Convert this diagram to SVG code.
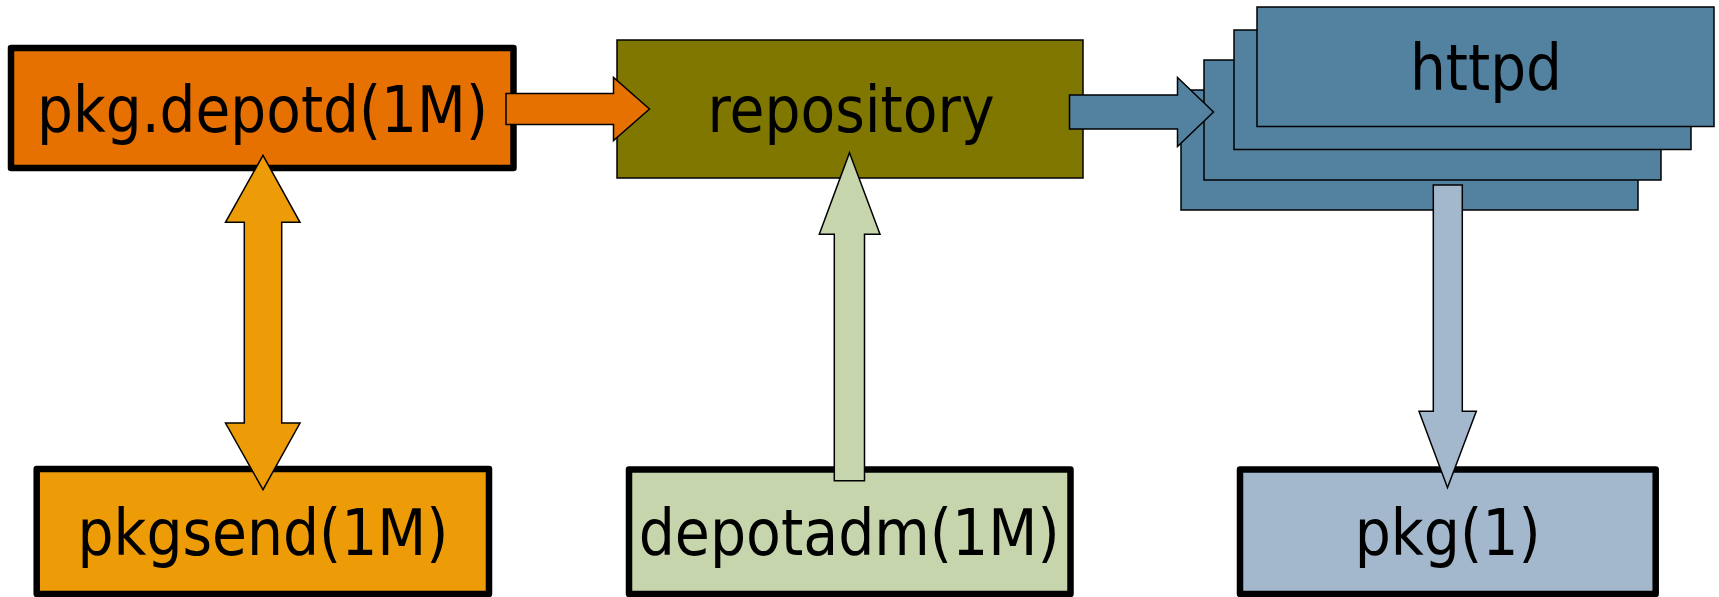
<svg xmlns="http://www.w3.org/2000/svg" width="1719" height="597" viewBox="0 0 1719 597">
  <style>
    .label { font-family: "DejaVu Sans Condensed", "DejaVu Sans", sans-serif; font-stretch: semi-condensed; font-size: 64px; fill: #000; text-anchor: middle; }
    .thick { stroke: #000; stroke-width: 6.5; stroke-linejoin: round; }
    .thin { stroke: #000; stroke-width: 1.5; stroke-linejoin: miter; }
  </style>
  <rect width="1719" height="597" fill="#fff"/>

  <!-- server daemon -->
  <g id="pkg-depotd">
    <rect class="thick" x="11" y="48" width="502.5" height="120" fill="#e67000"/>
    <text class="label" x="262.5" y="131.5" textLength="451" lengthAdjust="spacingAndGlyphs">pkg.depotd(1M)</text>
  </g>

  <!-- package repository -->
  <g id="repository">
    <rect class="thin" x="617" y="40" width="466" height="138" fill="#7f7700"/>
    <text class="label" x="851" y="131.5" textLength="287" lengthAdjust="spacingAndGlyphs">repository</text>
  </g>

  <!-- stacked web server instances -->
  <g id="httpd">
    <rect class="thin" x="1181" y="90" width="457" height="120" fill="#5382a1"/>
    <rect class="thin" x="1204" y="60" width="457" height="120" fill="#5382a1"/>
    <rect class="thin" x="1234" y="30" width="457" height="119.5" fill="#5382a1"/>
    <rect class="thin" x="1257" y="7" width="457" height="119.5" fill="#5382a1"/>
    <text class="label" x="1486" y="89.5" textLength="152" lengthAdjust="spacingAndGlyphs">httpd</text>
  </g>

  <!-- publishing client -->
  <g id="pkgsend">
    <rect class="thick" x="36.7" y="469" width="452.3" height="125" fill="#ed9c08"/>
    <text class="label" x="263" y="555.3" textLength="371" lengthAdjust="spacingAndGlyphs">pkgsend(1M)</text>
  </g>

  <!-- repository administration -->
  <g id="depotadm">
    <rect class="thick" x="629" y="469.5" width="441.5" height="124.5" fill="#c6d5ab"/>
    <text class="label" x="849.2" y="555.3" textLength="421" lengthAdjust="spacingAndGlyphs">depotadm(1M)</text>
  </g>

  <!-- retrieval client -->
  <g id="pkg">
    <rect class="thick" x="1240" y="469.5" width="415.7" height="124.5" fill="#a3b8cc"/>
    <text class="label" x="1447.7" y="555.3" textLength="186" lengthAdjust="spacingAndGlyphs">pkg(1)</text>
  </g>

  <!-- block arrows between components -->
  <g id="connectors" class="thin">
    <!-- pkg.depotd -> repository -->
    <polygon fill="#e67000" points="506,93.5 613.5,93.5 613.5,77.5 649.5,109 613.5,140.5 613.5,124.5 506,124.5"/>
    <!-- repository -> httpd -->
    <polygon fill="#5382a1" points="1069.5,95 1177.5,95 1177.5,77.5 1213.5,112 1177.5,146.5 1177.5,129 1069.5,129"/>
    <!-- pkg.depotd <-> pkgsend -->
    <polygon fill="#ed9c08" points="263,155.3 300,222.3 281.7,222.3 281.7,423 300,423 263,489.7 225.5,423 244.3,423 244.3,222.3 225.5,222.3"/>
    <!-- depotadm -> repository -->
    <polygon fill="#c6d5ab" points="849.5,152.7 880,234.3 864.5,234.3 864.5,480.7 834.3,480.7 834.3,234.3 819.3,234.3"/>
    <!-- httpd -> pkg -->
    <polygon fill="#a3b8cc" points="1433.3,185 1462.3,185 1462.3,411.3 1476.3,411.3 1447.5,487.7 1419,411.3 1433.3,411.3"/>
  </g>
</svg>
